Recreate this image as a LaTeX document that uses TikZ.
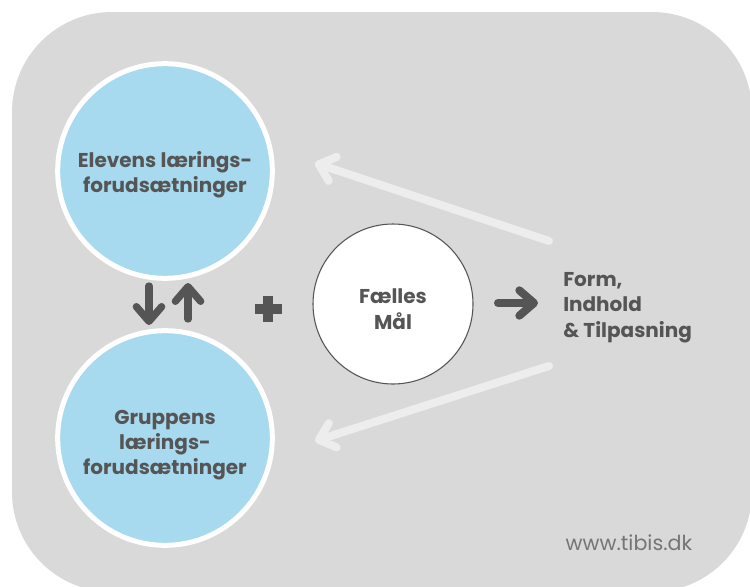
\documentclass[tikz,border=0pt]{standalone}
\usepackage{fontspec}
\setmainfont{Poppins}
\usetikzlibrary{arrows.meta}

\definecolor{bggray}{HTML}{D9D9D9}
\definecolor{skyblue}{HTML}{A7D9EF}
\definecolor{inkgray}{HTML}{555555}
\definecolor{palegray}{HTML}{EDEDED}
\definecolor{webgray}{HTML}{757575}

\begin{document}
\begin{tikzpicture}[x = 0.75pt, y = -0.75pt,
	bubble/.style = {circle, fill = skyblue, draw = white, line width = 3.75pt,
		minimum size = 161pt, inner sep = 0pt, align = center, text = inkgray,
		font = \fontsize{15}{18.75}\selectfont\bfseries},
	goal/.style = {circle, fill = white, draw = inkgray, line width = 0.8pt,
		minimum size = 120pt, inner sep = 0pt, align = center, text = inkgray,
		font = \fontsize{15}{19.5}\selectfont\bfseries},
	darkarrow/.style = {draw = inkgray, line width = 5.5pt, line cap = round,
		-{Straight Barb[round, length = 11pt, width = 19pt]}},
	palearrow/.style = {draw = palegray, line width = 6pt, line cap = round,
		-{Straight Barb[round, length = 11pt, width = 19pt]}}
]
\useasboundingbox (0, 0) rectangle (750, 586);
\clip (0, 0) rectangle (750, 586);
\fill[bggray, rounded corners = 75pt] (12, 12) rectangle (752, 592);

% circles
\node[bubble] (eleven) at (165, 171) {};
\node[bubble] (gruppe) at (165, 438) {};
\node[align = center, text = inkgray, font = \fontsize{15}{18.75}\selectfont\bfseries]
	(elevtext) at (165, 175) {Elevens lærings-\\forudsætninger};
\node[align = center, text = inkgray, font = \fontsize{15}{18.75}\selectfont\bfseries]
	(gruptext) at (165, 445) {Gruppens\\lærings-\\forudsætninger};
\node[goal] (maal) at (393, 304) {};
\node[align = center, text = inkgray, font = \fontsize{15}{19.5}\selectfont\bfseries]
	(maaltext) at (393, 309) {Fælles\\Mål};
\node[anchor = west, inner sep = 0pt, align = left, text = inkgray,
	font = \fontsize{15}{19.1}\selectfont\bfseries] (form) at (563, 307.5)
	{Form,\\Indhold\\\& Tilpasning};
\node[text = webgray, font = \fontsize{15.5}{17}\selectfont] (web) at (629, 543) {www.tibis.dk};

% arrows
\coordinate (down1) at (149, 286);
\coordinate (down2) at (149, 325);
\coordinate (up1) at (188, 319);
\coordinate (up2) at (188, 283);
\draw[darkarrow] (down1) -- (down2);
\draw[darkarrow] (up1) -- (up2);

\draw[inkgray, line width = 7.5pt] (255, 309) -- (282, 309);
\draw[inkgray, line width = 7.5pt] (268, 296) -- (268, 322);

\coordinate (go1) at (498, 303);
\coordinate (go2) at (538, 303);
\draw[darkarrow, line width = 6pt] (go1) -- (go2);

\coordinate (back1) at (549, 241);
\coordinate (back2) at (315, 163);
\coordinate (back3) at (549, 366);
\coordinate (back4) at (315, 441);
\draw[palearrow] (back1) -- (back2);
\draw[palearrow] (back3) -- (back4);
\end{tikzpicture}
\end{document}
